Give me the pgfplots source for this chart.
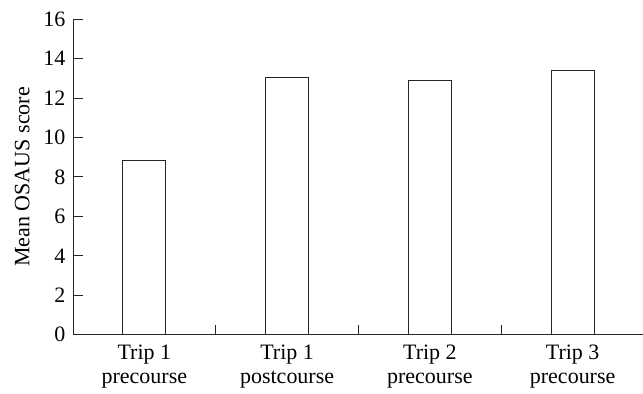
\documentclass[border=0pt]{standalone}
\usepackage{pgfplots}
\pgfplotsset{compat=1.18}
\usepackage{fontspec}
\setmainfont{Liberation Serif}
\begin{document}
\begin{tikzpicture}
\begin{axis}[
  scale only axis,
  width=570pt, height=316pt,
  xmin=-0.5, xmax=3.49,
  ymin=0, ymax=16,
  ytick={0,2,...,16},
  axis x line*=bottom, axis y line*=left,
  tick pos=left,
  axis line style={-, line width=0.8pt, black!85},
  tick style={line width=0.8pt, black!85},
  xtick={0.5,1.5,2.5},
  xticklabels={},
  extra x ticks={0,1,2,3},
  extra x tick labels={{Trip 1\\precourse},{Trip 1\\postcourse},{Trip 2\\precourse},{Trip 3\\precourse}},
  extra x tick style={major tick length=0pt, tick style={draw=none}},
  xticklabel style={align=center, font=\fontsize{22}{24}\selectfont, yshift=-7pt},
  yticklabel style={font=\fontsize{22}{24}\selectfont, xshift=-4pt},
  /pgf/number format/assume math mode=true,
  ylabel={Mean OSAUS score},
  ylabel style={font=\fontsize{22}{24}\selectfont},
  ylabel shift=7pt,
  ybar, bar width=43pt,
  major tick length=10pt,
  xtick align=inside, ytick align=inside,
  clip=false,
]
\addplot[draw=black!85, fill=white, line width=0.8pt] coordinates {(0,8.86) (1,13.02) (2,12.88) (3,13.38)};
\path ([xshift=-73pt,yshift=-59pt]rel axis cs:0,0) rectangle ([yshift=19pt]rel axis cs:1,1);
\end{axis}
\end{tikzpicture}
\end{document}
